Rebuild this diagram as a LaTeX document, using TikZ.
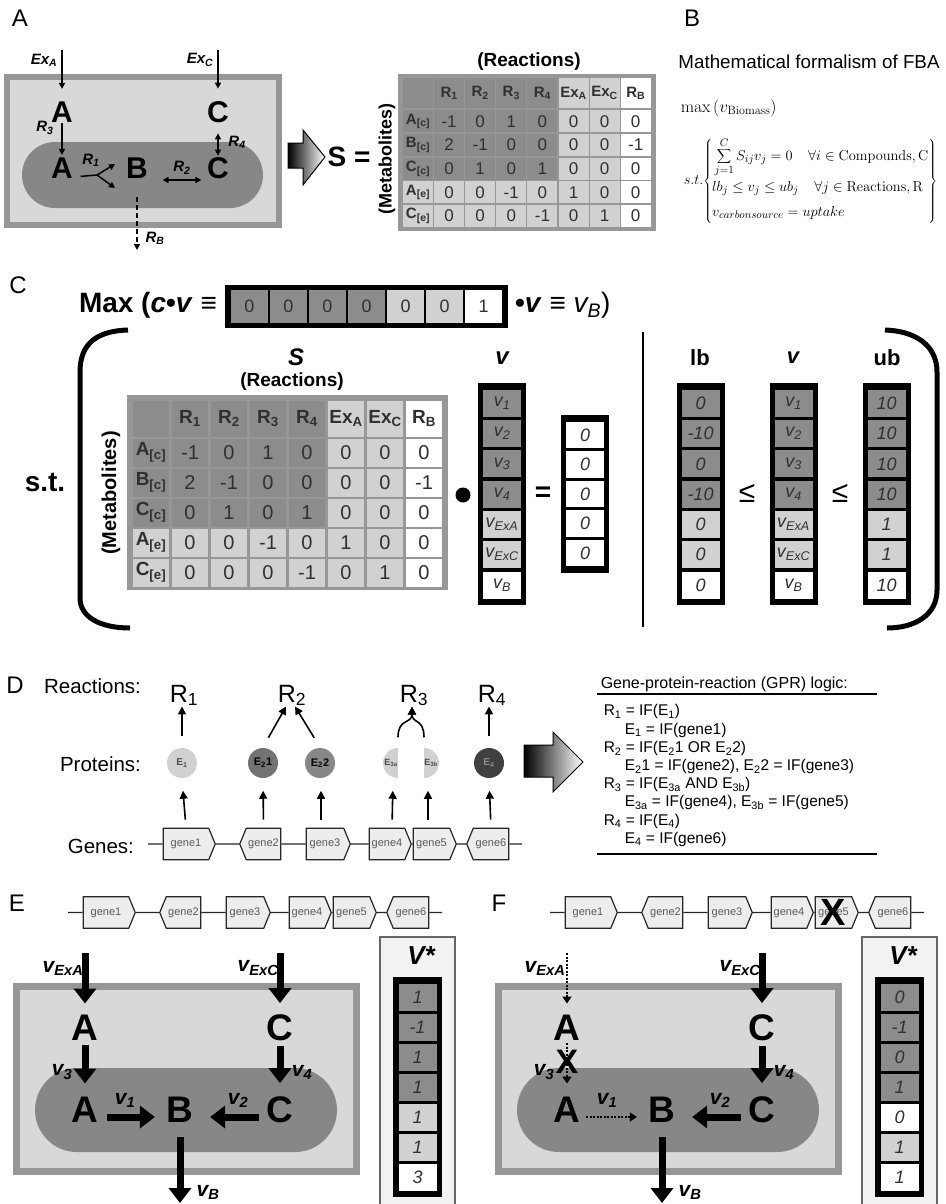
\documentclass[tikz,border=0pt]{standalone}
\usepackage[no-math]{fontspec}
\setmainfont{Liberation Sans}
\setsansfont{Liberation Sans}
\usetikzlibrary{arrows.meta, shapes.symbols}
\definecolor{cwall}{HTML}{979797}
\definecolor{ccyto}{HTML}{D8D8D8}
\definecolor{cpill}{HTML}{878787}
\definecolor{cink}{HTML}{303030}
\tikzset{
  every picture/.style={line width=1.5pt},
  txt/.style={font=\fontsize{#1}{#1}\selectfont},
  btxt/.style={font=\fontsize{#1}{#1}\selectfont\bfseries},
  bitxt/.style={font=\fontsize{#1}{#1}\selectfont\bfseries\itshape},
  itxt/.style={font=\fontsize{#1}{#1}\selectfont\itshape},
  plabel/.style={txt=24, inner sep=0pt},
  met/.style={btxt=#1, inner sep=0pt},
  wall/.style={draw=cwall, fill=ccyto},
  pill/.style={fill=cpill},
  mcell/.style={inner sep=0pt, text=cink},
  vcell/.style={inner sep=0pt, minimum width=38pt, minimum height=27pt, itxt=18, text=cink},
  vframe/.style={fill=black},
  aarr/.style={line width=1.5pt, -{Triangle[length=6pt,width=6pt]}},
  aarrd/.style={line width=1.5pt, {Triangle[length=6pt,width=6pt]}-{Triangle[length=6pt,width=6pt]}},
  rlab/.style={bitxt=15, inner sep=0pt},
  parr/.style={line width=1.6pt, -{Triangle[length=8pt,width=8pt]}},
  gene/.style={signal, signal pointer angle=135, draw=black!85, fill=black!7, line width=1.2pt,
    minimum height=31.5pt, inner xsep=1pt, inner ysep=0pt, txt=11, text=black!65},
  gline/.style={line width=1.4pt, draw=black!85},
  prot/.style={circle, minimum size=30pt, inner sep=0pt, btxt=11},
  flux/.style={line width=7pt, -{Triangle[length=15pt,width=22pt]}},
  noflux/.style={line width=2pt, dash pattern=on 2pt off 1.5pt, -{Triangle[length=7pt,width=9pt]}},
  vlab/.style={bitxt=21, inner sep=0pt},
  brk/.style={line width=5pt},
  gtxt/.style={font=\fontsize{15.5}{18.2}\selectfont},
}
\begin{document}
\begin{tikzpicture}[x=1pt, y=-1pt]
\useasboundingbox (0,0) rectangle (945,1204);

% ---------- A: toy network and its S matrix ----------
\node[plabel] (labA) at (20,18) {A};
\draw[wall, line width=6pt] (7,77) rectangle (279,225);
\fill[pill, rounded corners=33pt] (22,142) rectangle (263,208);
\node[met=30] (Ao) at (62,112) {A};
\node[met=30] (Co) at (218,112) {C};
\node[met=30] (Ai) at (62,168) {A};
\node[met=30] (Bi) at (137,168) {B};
\node[met=30] (Ci) at (218,168) {C};
\coordinate (exA) at (62,50);
\coordinate (exC) at (218,50);
\coordinate (rB) at (137,250);
\coordinate (r1f) at (97,175);
\coordinate (r1u) at (115,164);
\coordinate (r1d) at (115,188);
\draw[aarr, shorten >=12pt] (exA) -- (Ao);
\draw[aarr, shorten >=12pt] (exC) -- (Co);
\draw[aarr, shorten >=2pt] (Ao) -- (Ai);
\draw[aarrd, shorten <=10pt, shorten >=1pt] (Co) -- (Ci);
\draw[shorten <=7pt] ([yshift=-9pt]Ai.east) -- (r1f);
\draw[aarr] (r1f) -- (r1u);
\draw[aarr] (r1f) -- (r1d);
\draw[aarrd, shorten <=14pt, shorten >=5pt] ([yshift=-12pt]Bi.east) -- ([yshift=-12pt]Ci.west);
\draw[aarr, dash pattern=on 5pt off 3pt, shorten <=18pt] (Bi) -- (rB);
\node[rlab] (lexA) at (44,60) {Ex\textsubscript{A}};
\node[rlab] (lexC) at (200,60) {Ex\textsubscript{C}};
\node[rlab] (lr3) at (45,128) {R\textsubscript{3}};
\node[rlab] (lr4) at (237,142) {R\textsubscript{4}};
\node[rlab] (lr1) at (91,160) {R\textsubscript{1}};
\node[rlab] (lr2) at (182,168) {R\textsubscript{2}};
\node[rlab] (lrB) at (155,238) {R\textsubscript{B}};
\shadedraw[left color=black, right color=white, draw=black, line width=1pt]
  (288,143) -- (303,143) -- (303,130) -- (325,157) -- (303,185) -- (303,168) -- (288,168) -- cycle;
\node[btxt=28] (Seq) at (349,157) {S =};
\node[btxt=19] (reacA) at (529,62) {(Reactions)};
\node[btxt=18, rotate=90] (metaA) at (387,159) {(Metabolites)};
\fill[cwall] (398,74) rectangle (656,231);
\node[mcell, fill=black!45, minimum width=30pt, minimum height=30pt] (sa-0-0) at (418,93) {};
\foreach \h [count=\c] in {R\textsubscript{1},R\textsubscript{2},R\textsubscript{3},R\textsubscript{4},Ex\textsubscript{A},Ex\textsubscript{C},R\textsubscript{B}} {
  \pgfmathtruncatemacro\g{\c==7 ? 0 : (\c>4 ? 18 : 45)}
  \node[mcell, btxt=15, fill=black!\g, minimum width=30pt, minimum height=30pt] (sa-0-\c) at (418+31.1*\c,93) {\h};
}
\foreach \r/\m/\s/\vals in {1/A/c/{-1,0,1,0,0,0,0}, 2/B/c/{2,-1,0,0,0,0,-1}, 3/C/c/{0,1,0,1,0,0,0}, 4/A/e/{0,0,-1,0,1,0,0}, 5/C/e/{0,0,0,-1,0,1,0}} {
  \pgfmathtruncatemacro\g{\r>3 ? 18 : 45}
  \node[mcell, btxt=15, fill=black!\g, minimum width=30pt, minimum height=22pt] (sa-\r-0) at (418,97.6+23.7*\r) {\m\textsubscript{[\s]}};
  \foreach \v [count=\c] in \vals {
    \pgfmathtruncatemacro\g{\c==7 ? 0 : ((\c>4 || \r>3) ? 18 : 45)}
    \node[mcell, txt=17, fill=black!\g, minimum width=30pt, minimum height=22pt] (sa-\r-\c) at (418+31.1*\c,97.6+23.7*\r) {\v};
  }
}

% ---------- B: formalism ----------
\node[plabel] (labB) at (692,18) {B};
\node[txt=18.8] (titB) at (809,62) {Mathematical formalism of FBA};
\node[anchor=west, inner sep=0pt, font=\fontsize{18}{18}\selectfont] (objB) at (680,108) {$\max\left(v_{\mathrm{Biomass}}\right)$};
\node[anchor=west, inner sep=0pt, font=\fontsize{15.5}{19}\selectfont] (consB) at (683,181)
  {$s.t.\!\left\{\begin{array}{@{}l@{}}\rule{0pt}{22pt}\displaystyle\sum_{j=1}^{C} S_{ij}v_j = 0\quad \forall i \in \mathrm{Compounds,C}\\[12pt] lb_j \le v_j \le ub_j\quad \forall j \in \mathrm{Reactions,R}\\[6pt] v_{carbonsource} = uptake\rule[-8pt]{0pt}{8pt}\end{array}\right\}$};

% ---------- C: LP with the toy network ----------
\node[plabel] (labC) at (18,285) {C};
\node[btxt=28, anchor=east] (maxl) at (221,305) {Max (\textit{c}•\textit{v} ≡};
\fill[vframe] (225,285) rectangle (508,328);
\foreach \v/\g [count=\k] in {0/45,0/45,0/45,0/45,0/18,0/18,1/0}
  \node[mcell, txt=18, fill=black!\g, minimum width=36.5pt, minimum height=33pt] (cv-\k) at (210.5+39*\k,306.5) {\v};
\node[btxt=28, anchor=west] (maxr) at (511,305) {•\textit{v} ≡ {\mdseries\textit{v\textsubscript{B}})}};
\draw[brk] (128,330) .. controls (95,331) and (80,345) .. (80,372) -- (80,598) .. controls (80,617) and (100,628) .. (130,628);
\draw[brk] (885,330) .. controls (915,331) and (937,345) .. (937,372) -- (937,590) .. controls (937,615) and (915,628) .. (887,628);
\draw (643,332) -- (643,627);
\node[btxt=28] (st) at (45,482) {s.t.};
\node[bitxt=24] (Slab) at (296,357) {S};
\node[btxt=19] (reacC) at (292,382) {(Reactions)};
\node[btxt=20, rotate=90] (metaC) at (111,493) {(Metabolites)};
\fill[cwall] (127,395) rectangle (448,590);
\node[mcell, fill=black!45, minimum width=36.5pt, minimum height=36pt] (sc-0-0) at (151,418.5) {};
\foreach \h [count=\c] in {R\textsubscript{1},R\textsubscript{2},R\textsubscript{3},R\textsubscript{4},Ex\textsubscript{A},Ex\textsubscript{C},R\textsubscript{B}} {
  \pgfmathtruncatemacro\g{\c==7 ? 0 : (\c>4 ? 18 : 45)}
  \node[mcell, btxt=19, fill=black!\g, minimum width=36.5pt, minimum height=36pt] (sc-0-\c) at (151+39*\c,418.5) {\h};
}
\foreach \r/\m/\s/\vals in {1/A/c/{-1,0,1,0,0,0,0}, 2/B/c/{2,-1,0,0,0,0,-1}, 3/C/c/{0,1,0,1,0,0,0}, 4/A/e/{0,0,-1,0,1,0,0}, 5/C/e/{0,0,0,-1,0,1,0}} {
  \pgfmathtruncatemacro\g{\r>3 ? 18 : 45}
  \node[mcell, btxt=19, fill=black!\g, minimum width=36.5pt, minimum height=28pt] (sc-\r-0) at (151,422.5+30*\r) {\m\textsubscript{[\s]}};
  \foreach \v [count=\c] in \vals {
    \pgfmathtruncatemacro\g{\c==7 ? 0 : ((\c>4 || \r>3) ? 18 : 45)}
    \node[mcell, txt=20, fill=black!\g, minimum width=36.5pt, minimum height=28pt] (sc-\r-\c) at (151+39*\c,422.5+30*\r) {\v};
  }
}
\node[circle, fill=black, minimum size=15pt, inner sep=0pt] (dotC) at (463,495) {};
\node[btxt=28] (eqC) at (543,494) {=};
\node[bitxt=24] (vlabl) at (502,358) {v};
\node[btxt=22] (lblb) at (700,358) {lb};
\node[bitxt=22] (vlabr) at (793,358) {v};
\node[btxt=22] (lbub) at (887,358) {ub};
\node[txt=30] (le1) at (747,493) {≤};
\node[txt=30] (le2) at (840,493) {≤};
\foreach \x in {502,700.5,793.5,886.5}
  \fill[vframe] (\x-24,383) rectangle (\x+24,605);
\foreach \lo/\vk/\up/\g [count=\k] in {0/1/10/45,-10/2/10/45,0/3/10/45,-10/4/10/45,0/ExA/1/18,0/ExC/1/18,0/B/10/0} {
  \node[vcell, fill=black!\g] (vl-\k) at (502,372.9+30.3*\k) {v\textsubscript{\vk}};
  \node[vcell, fill=black!\g] (lb-\k) at (700.5,372.9+30.3*\k) {\lo};
  \node[vcell, fill=black!\g] (vr-\k) at (793.5,372.9+30.3*\k) {v\textsubscript{\vk}};
  \node[vcell, fill=black!\g] (ub-\k) at (886.5,372.9+30.3*\k) {\up};
}
\fill[vframe] (561,415) rectangle (609,573);
\foreach \k in {1,...,5}
  \node[vcell, fill=white, minimum height=26.5pt] (z-\k) at (585,405.2+29.6*\k) {0};

% ---------- gene rows (D, E, F) ----------
\foreach \p/\dx/\gy in {D/80/844, E/0/912.5, F/482/912.5} {
  \coordinate (gl\p) at (\dx+68,\gy);
  \coordinate (gr\p) at (\dx+442,\gy);
  \foreach \gn/\gx/\gw/\gd in {1/106/52/east, 2/183.5/41/west, 3/245/44/east, 4/307/42/east, 5/351.5/43/east, 6/411/42/west}
    \node[gene, minimum width=\gw pt, signal to=\gd] (g\p-\gn) at (\dx+\gx,\gy) {gene\gn};
  \draw[gline] (gl\p) -- (g\p-1) -- (g\p-2) -- (g\p-3) -- (g\p-4) -- (g\p-5) -- (g\p-6) -- (gr\p);
}

% ---------- D: GPR ----------
\node[plabel] (labD) at (15,685) {D};
\node[txt=20.5, anchor=east] (rowR) at (145,686) {Reactions:};
\node[txt=20.5, anchor=east] (rowP) at (145,764) {Proteins:};
\node[txt=20.5, anchor=east] (rowG) at (138,846) {Genes:};
\foreach \i/\x in {1/184, 2/292, 3/414, 4/492}
  \node[txt=25, anchor=base, inner sep=0pt] (r\i) at (\x,702) {R\textsubscript{\i}};
\node[prot, fill=black!18, text=black!70, btxt=10] (e1) at (182,763) {E\textsubscript{1}};
\node[prot, fill=black!55] (e21) at (263,763) {E\textsubscript{2}1};
\node[prot, fill=black!47] (e22) at (320,763) {E\textsubscript{2}2};
\node[prot, path picture={\fill[black!18] (path picture bounding box.north west) rectangle (path picture bounding box.south);},
  label={[btxt=9, text=black!70, xshift=-7pt]center:E\textsubscript{3a}}] (e3a) at (398,763) {};
\node[prot, path picture={\fill[black!18] (path picture bounding box.north) rectangle (path picture bounding box.south east);},
  label={[btxt=9, text=black!70, xshift=7pt]center:E\textsubscript{3b}}] (e3b) at (424,763) {};
\node[prot, fill=black!75, text=black!45, btxt=10] (e4) at (489,763) {E\textsubscript{4}};
\foreach \g/\e/\sa/\sb in {1/e1/0/0, 2/e21/0/0, 3/e22/-4/1, 4/e3a/5/-5, 5/e3b/-3.5/4, 6/e4/0/0}
  \draw[parr, shorten <=8pt, shorten >=12pt] ([xshift=\sa pt]gD-\g.north) -- ([xshift=\sb pt]\e.south);
\draw[parr, shorten <=11pt] (e1.north) -- (e1.north |- r1.south);
\draw[parr, shorten <=11pt] (e21.north) -- ([xshift=-6pt]r2.south);
\draw[parr, shorten <=11pt] (e22.north) -- ([xshift=3pt]r2.south);
\draw[parr, shorten <=10pt] (e3a.north) .. controls (398,718) and (412,724) .. ([xshift=-2pt]r3.south);
\draw[parr, shorten <=10pt] (e3b.north) .. controls (424,718) and (412,724) .. ([xshift=-2pt]r3.south);
\draw[parr, shorten <=11pt] (e4.north) -- (e4.north |- r4.south);
\shadedraw[left color=black, right color=white, draw=black, line width=1pt]
  (524,745) -- (553,745) -- (553,732) -- (583,762) -- (553,792) -- (553,777) -- (524,777) -- cycle;
\node[txt=16, anchor=base west, inner sep=0pt] (gprt) at (600,688) {Gene-protein-reaction (GPR) logic:};
\draw[line width=2pt] (597,694) -- (877,694);
\node[gtxt, align=left, anchor=north west, inner sep=0pt] (gpr) at (603,704) {%
  R\textsubscript{1} = IF(E\textsubscript{1})\\
  \hspace*{21pt}E\textsubscript{1} = IF(gene1)\\
  R\textsubscript{2} = IF(E\textsubscript{2}1 OR E\textsubscript{2}2)\\
  \hspace*{21pt}E\textsubscript{2}1 = IF(gene2), E\textsubscript{2}2 = IF(gene3)\\
  R\textsubscript{3} = IF(E\textsubscript{3a} AND E\textsubscript{3b})\\
  \hspace*{21pt}E\textsubscript{3a} = IF(gene4), E\textsubscript{3b} = IF(gene5)\\
  R\textsubscript{4} = IF(E\textsubscript{4})\\
  \hspace*{21pt}E\textsubscript{4} = IF(gene6)};
\draw[line width=2pt] (597,854) -- (877,854);

% ---------- E, F: wild type and gene5 deletion ----------
\foreach \p/\dx/\vals in {E/0/{1/45,-1/45,1/45,1/45,1/18,1/18,3/0}, F/482/{0/45,-1/45,0/45,1/45,0/0,1/18,1/0}} {
  \begin{scope}[xshift=\dx pt]
    \node[plabel] (lab\p) at (17,903) {\p};
    \draw[wall, line width=7pt] (16.5,986.5) rectangle (356.5,1171.5);
    \fill[pill, rounded corners=42pt] (35,1068) rectangle (337,1152);
    \node[met=37] (ao\p) at (85,1028) {A};
    \node[met=37] (co\p) at (280,1028) {C};
    \node[met=37] (ai\p) at (85,1110) {A};
    \node[met=37] (b\p) at (180,1110) {B};
    \node[met=37] (ci\p) at (280,1110) {C};
    \coordinate (ta\p) at (85,953);
    \coordinate (tc\p) at (280,953);
    \coordinate (tb\p) at (180,1203);
    \node[vlab] (lxa\p) at (63,968) {v\textsubscript{ExA}};
    \node[vlab] (lxc\p) at (258,968) {v\textsubscript{ExC}};
    \node[vlab] (lv3\p) at (62,1072) {v\textsubscript{3}};
    \node[vlab] (lv4\p) at (302,1072) {v\textsubscript{4}};
    \node[vlab] (lv1\p) at (125,1100) {v\textsubscript{1}};
    \node[vlab] (lv2\p) at (238,1100) {v\textsubscript{2}};
    \node[vlab] (lvb\p) at (208,1192) {v\textsubscript{B}};
    \draw[fill=black!5, draw=black!60] (380,937) rectangle (455,1205);
    \node[bitxt=26] (vs\p) at (421,956) {V*};
    \fill[vframe] (393,977) rectangle (442,1197);
    \foreach \v/\g [count=\k] in \vals
      \node[vcell, fill=black!\g] (vs\p-\k) at (417.5,967+30*\k) {\v};
  \end{scope}
}
% E fluxes
\draw[flux, shorten >=11pt] (taE) -- (aoE);
\draw[flux, shorten <=4pt, shorten >=13pt] (aoE) -- (aiE);
\draw[flux, shorten >=11pt] (tcE) -- (coE);
\draw[flux, shorten <=4pt, shorten >=13pt] (coE) -- (ciE);
\draw[flux, shorten <=8pt, shorten >=11pt] ([yshift=-7pt]aiE.east) -- ([yshift=-7pt]bE.west);
\draw[flux, shorten <=7pt, shorten >=16pt] ([yshift=-7pt]ciE.west) -- ([yshift=-7pt]bE.east);
\draw[flux, shorten <=14pt] (bE) -- (tbE);
% F fluxes
\draw[noflux, shorten >=11pt] (taF) -- (aoF);
\draw[noflux, shorten <=2pt, shorten >=13pt] (aoF) -- (aiF);
\node[btxt=34, inner sep=0pt] (xv3) at (567,1062) {X};
\draw[flux, shorten >=11pt] (tcF) -- (coF);
\draw[flux, shorten <=4pt, shorten >=13pt] (coF) -- (ciF);
\draw[noflux, shorten <=5pt, shorten >=11pt] ([yshift=-7pt]aiF.east) -- ([yshift=-7pt]bF.west);
\draw[flux, shorten <=7pt, shorten >=16pt] ([yshift=-7pt]ciF.west) -- ([yshift=-7pt]bF.east);
\draw[flux, shorten <=14pt] (bF) -- (tbF);
\node[btxt=38, inner sep=0pt] (xg5) at (gF-5) {X};
\end{tikzpicture}
\end{document}
